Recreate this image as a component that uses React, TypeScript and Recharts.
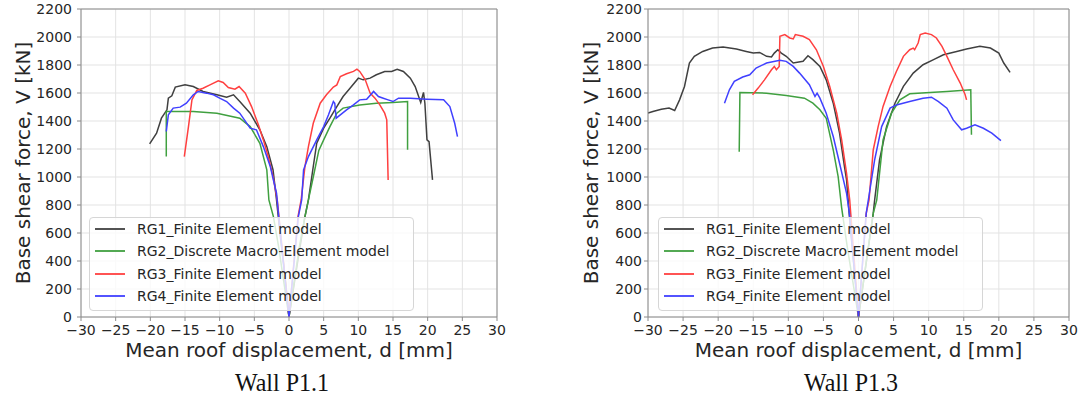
import React from 'react'
import { LineChart, Line, XAxis, YAxis, CartesianGrid, ReferenceLine, Legend } from 'recharts'

// [displacement d (mm), base shear V (kN)]
type Pt = [number, number]

const xTicks = [-30, -25, -20, -15, -10, -5, 0, 5, 10, 15, 20, 25, 30]
const yTicks = [0, 200, 400, 600, 800, 1000, 1200, 1400, 1600, 1800, 2000, 2200]

const seriesNames = [
  'RG1_Finite Element model',
  'RG2_Discrete Macro-Element model',
  'RG3_Finite Element model',
  'RG4_Finite Element model',
]
const seriesColors = ['#404040', '#40a040', '#ff4040', '#4040ff']

// Wall P1.1
const p11Rg1: Pt[] = [
  [-20.1, 1237], [-19.1, 1313], [-18.4, 1420], [-17.6, 1480], [-17.4, 1563], [-16.9, 1580], [-16.4, 1642],
  [-15.0, 1658], [-13.8, 1646], [-12.4, 1611], [-10.4, 1587], [-9.0, 1570], [-8.0, 1587], [-7.1, 1539],
  [-5.6, 1456], [-4.2, 1337], [-3.2, 1217], [-2.3, 1050], [-1.8, 836], [-1.3, 598], [-0.6, 300], [0, 0],
  [1.2, 380], [2.3, 717], [2.8, 836], [3.5, 1075], [4.0, 1241], [5.0, 1349], [5.9, 1420], [6.9, 1503],
  [7.8, 1575], [8.8, 1634], [10.0, 1706], [10.7, 1694], [11.7, 1706], [12.6, 1730], [13.8, 1754],
  [14.8, 1754], [15.6, 1770], [16.5, 1754], [17.5, 1706], [18.2, 1646], [18.7, 1575], [19.0, 1532],
  [19.4, 1604], [19.6, 1527], [19.9, 1265], [20.2, 1253], [20.7, 979],
]
const p11Rg2: Pt[] = [
  [-17.7, 1146], [-17.7, 1468], [-13.8, 1468], [-10.4, 1456], [-7.1, 1420], [-5.6, 1360], [-4.2, 1241],
  [-3.2, 1051], [-2.9, 836], [-2.25, 717], [-1.5, 503], [0, 0], [1.5, 503], [2.3, 717], [2.8, 836],
  [3.5, 1000], [4.3, 1190], [5.0, 1265], [5.9, 1360], [6.9, 1456], [7.8, 1492], [10.2, 1515],
  [12.6, 1527], [15.0, 1532], [17.1, 1539], [17.1, 1194],
]
const p11Rg3: Pt[] = [
  [-15.1, 1146], [-14.5, 1360], [-14.0, 1551], [-13.3, 1618], [-12.4, 1634], [-11.4, 1658], [-10.2, 1687],
  [-9.5, 1675], [-8.75, 1639], [-7.8, 1627], [-7.2, 1646], [-6.3, 1599], [-5.4, 1503], [-4.4, 1372],
  [-3.7, 1265], [-3.0, 1146], [-2.3, 1003], [-1.7, 836], [-1.2, 598], [0, 0], [1.3, 717], [1.75, 836],
  [2.3, 1075], [2.8, 1217], [3.5, 1384], [4.5, 1527], [5.4, 1587], [6.4, 1642], [6.9, 1658], [7.4, 1718],
  [8.3, 1737], [9.3, 1754], [9.8, 1770], [10.2, 1754], [11.0, 1694], [11.7, 1599], [12.4, 1563],
  [13.1, 1515], [13.8, 1456], [14.1, 1408], [14.3, 979],
]
const p11Rg4: Pt[] = [
  [-17.7, 1325], [-17.4, 1444], [-16.7, 1492], [-15.7, 1499], [-14.8, 1527], [-13.8, 1587], [-13.1, 1611],
  [-11.9, 1599], [-10.9, 1587], [-10.0, 1563], [-9.0, 1539], [-8.0, 1492], [-7.1, 1456], [-5.6, 1349],
  [-4.7, 1337], [-3.7, 1217], [-2.7, 1075], [-1.8, 884], [-1.25, 598], [0, 0], [1.35, 717], [1.83, 836],
  [2.1, 1051], [2.8, 1146], [4.0, 1265], [5.0, 1360], [5.7, 1444], [6.4, 1539], [6.6, 1527], [6.8, 1420],
  [7.4, 1444], [8.3, 1480], [9.3, 1515], [10.2, 1551], [11.2, 1556], [12.2, 1611], [12.9, 1575],
  [13.6, 1563], [14.3, 1551], [15.0, 1539], [15.8, 1563], [17.5, 1563], [19.9, 1556], [22.3, 1551],
  [23.2, 1503], [23.9, 1384], [24.3, 1289],
]

// Wall P1.3
const p13Rg1: Pt[] = [
  [-30, 1456], [-29.3, 1468], [-28.1, 1484], [-27, 1492], [-26.2, 1475], [-25.5, 1551], [-24.8, 1647],
  [-24.1, 1814], [-23.4, 1862], [-22.2, 1897], [-20.8, 1921], [-19.3, 1928], [-17.4, 1914], [-16.0, 1897],
  [-15.0, 1885], [-14.1, 1890], [-13.1, 1862], [-12.4, 1857], [-12.0, 1885], [-11.5, 1909], [-11.0, 1885],
  [-10.3, 1862], [-9.3, 1814], [-7.9, 1826], [-7.2, 1866], [-6.5, 1838], [-5.5, 1790], [-4.6, 1694],
  [-3.6, 1527], [-2.7, 1313], [-2.0, 1074], [-1.7, 979], [-1.33, 740], [0, 0], [2.1, 740], [2.3, 835],
  [3.0, 1122], [4.0, 1360], [5.2, 1527], [6.4, 1647], [7.8, 1742], [9.2, 1802], [10.7, 1838],
  [12.1, 1873], [14.0, 1897], [15.4, 1914], [17.3, 1933], [18.8, 1921], [20.0, 1885], [20.7, 1814],
  [21.6, 1747],
]
const p13Rg2: Pt[] = [
  [-17.0, 1181], [-16.9, 1604], [-13.1, 1599], [-10.3, 1582], [-7.7, 1563], [-6.5, 1527], [-5.5, 1480],
  [-4.6, 1420], [-3.6, 1193], [-2.9, 1002], [-2.4, 780], [-1.6, 500], [0, 0], [1.4, 500], [2.1, 740],
  [2.6, 835], [3.5, 1265], [4.7, 1456], [5.9, 1551], [7.3, 1594], [10.2, 1604], [12.6, 1611],
  [16.0, 1623], [16.1, 1301],
]
const p13Rg3: Pt[] = [
  [-15.1, 1587], [-14.3, 1635], [-13.4, 1694], [-12.4, 1766], [-12.0, 1790], [-11.7, 1766], [-11.3, 1790],
  [-11.2, 2005], [-10.5, 2017], [-9.8, 1993], [-9.3, 1986], [-9.0, 2017], [-7.9, 2005], [-7.0, 1981],
  [-6.0, 1909], [-5.0, 1790], [-4.1, 1647], [-3.1, 1456], [-2.4, 1265], [-1.7, 1026], [-1.25, 835], [0, 0],
  [1.1, 740], [1.5, 835], [2.1, 1193], [2.8, 1360], [3.5, 1504], [4.5, 1647], [5.4, 1754], [6.4, 1862],
  [7.3, 1909], [7.8, 1921], [8.0, 1909], [8.5, 1957], [8.8, 2017], [9.5, 2029], [10.4, 2017],
  [11.1, 1993], [11.9, 1933], [12.6, 1862], [13.5, 1766], [14.5, 1671], [15.2, 1587], [15.4, 1551],
]
const p13Rg4: Pt[] = [
  [-19.1, 1527], [-18.4, 1623], [-17.7, 1683], [-16.5, 1714], [-15.5, 1730], [-14.6, 1778], [-13.1, 1814],
  [-11.2, 1833], [-10.3, 1826], [-9.3, 1790], [-8.4, 1742], [-7.0, 1659], [-6.2, 1575], [-5.9, 1599],
  [-5.5, 1563], [-4.6, 1456], [-3.6, 1289], [-2.7, 1098], [-1.7, 883], [-1.3, 740], [0, 0], [1.1, 740],
  [1.6, 900], [2.3, 1122], [3.3, 1360], [4.5, 1492], [5.4, 1515], [7.3, 1539], [9.2, 1563], [10.4, 1570],
  [11.4, 1539], [12.6, 1492], [13.5, 1408], [14.7, 1337], [15.4, 1348], [16.6, 1372], [17.8, 1348],
  [19.0, 1313], [20.3, 1260],
]

const toRows = (pts: Pt[]) => pts.map(([d, v]) => ({ d, v }))
const fmtTick = (v: number) => (v < 0 ? '\u2212' + Math.abs(v) : String(v))

const FONT = '"DejaVu Sans", sans-serif'
const SPINE = '#8a8a8a'

// legend drawn from the series list itself so each swatch keeps its series colour
function LegendBox() {
  return (
    <div
      style={{
        width: 325,
        boxSizing: 'border-box',
        background: 'rgba(255,255,255,0.8)',
        border: '1px solid #d6d6d6',
        borderRadius: 4,
        padding: '0 5px 3px 5px',
        fontFamily: FONT,
        fontSize: 14,
        color: '#262626',
      }}
    >
      {seriesNames.map((name, i) => (
        <div key={name} style={{ display: 'flex', alignItems: 'center', height: 22.3, whiteSpace: 'nowrap' }}>
          <svg width={30} height={8} style={{ marginRight: 12, flex: 'none' }}>
            <line x1={0} y1={4} x2={30} y2={4} stroke={seriesColors[i]} strokeWidth={1.8} />
          </svg>
          <span>{name}</span>
        </div>
      ))}
    </div>
  )
}

type WallProps = {
  series: Pt[][]
  width: number
  yAxisWidth: number
  marginRight: number
  yLabelOffset: number
  tickMarginY: number
  legendLeft: number
}

function WallChart({ series, width, yAxisWidth, marginRight, yLabelOffset, tickMarginY, legendLeft }: WallProps) {
  const tickStyle = { fontSize: 14, fill: '#262626', fontFamily: FONT }
  return (
    <LineChart width={width} height={398} margin={{ top: 9, right: marginRight, bottom: 31, left: 0 }}>
      <CartesianGrid stroke="#e3e3e3" strokeWidth={1} />
      <XAxis
        type="number"
        dataKey="d"
        domain={[-30, 30]}
        ticks={xTicks}
        allowDataOverflow
        tickFormatter={fmtTick}
        tick={tickStyle}
        tickSize={4}
        tickMargin={4}
        height={50}
        stroke={SPINE}
        tickLine={{ stroke: SPINE }}
        label={{
          value: 'Mean roof displacement, d [mm]',
          position: 'insideBottom',
          offset: 10,
          style: { fontSize: 20, fill: '#262626', fontFamily: FONT },
        }}
      />
      <YAxis
        type="number"
        domain={[0, 2200]}
        ticks={yTicks}
        allowDataOverflow
        width={yAxisWidth}
        tick={tickStyle}
        tickSize={4}
        tickMargin={tickMarginY}
        stroke={SPINE}
        tickLine={{ stroke: SPINE }}
        label={{
          value: 'Base shear force, V [kN]',
          angle: -90,
          position: 'insideLeft',
          offset: yLabelOffset,
          style: { fontSize: 20, fill: '#262626', fontFamily: FONT, textAnchor: 'middle' },
        }}
      />
      <ReferenceLine y={2200} stroke={SPINE} />
      <ReferenceLine x={30} stroke={SPINE} />
      {series.map((pts, i) => (
        <Line
          key={seriesNames[i]}
          name={seriesNames[i]}
          data={toRows(pts)}
          dataKey="v"
          type="linear"
          stroke={seriesColors[i]}
          strokeWidth={1.5}
          dot={false}
          activeDot={false}
          isAnimationActive={false}
        />
      ))}
      <Legend
        layout="vertical"
        align="center"
        verticalAlign="middle"
        content={<LegendBox />}
        wrapperStyle={{ left: legendLeft, top: 217, width: 'auto' }}
      />
    </LineChart>
  )
}

const captionStyle: React.CSSProperties = {
  position: 'absolute',
  top: 370,
  width: 200,
  textAlign: 'center',
  fontFamily: '"Liberation Serif", "Times New Roman", serif',
  fontSize: 24,
  lineHeight: '24px',
  color: '#111',
  transform: 'scaleY(1.08)',
}

export default function App() {
  return (
    <div style={{ position: 'absolute', left: 0, top: 0, width: 1081, height: 398, background: '#fff', overflow: 'hidden' }}>
      <div style={{ position: 'absolute', left: 0, top: 0 }}>
        <WallChart
          series={[p11Rg1, p11Rg2, p11Rg3, p11Rg4]}
          width={520}
          yAxisWidth={81}
          marginRight={23}
          yLabelOffset={23}
          tickMarginY={5}
          legendLeft={89}
        />
      </div>
      <div style={{ position: 'absolute', left: 560, top: 0 }}>
        <WallChart
          series={[p13Rg1, p13Rg2, p13Rg3, p13Rg4]}
          width={521}
          yAxisWidth={88}
          marginRight={12}
          yLabelOffset={31}
          tickMarginY={2}
          legendLeft={98}
        />
      </div>
      <div style={{ ...captionStyle, left: 282 - 100 }}>Wall P1.1</div>
      <div style={{ ...captionStyle, left: 851 - 100 }}>Wall P1.3</div>
    </div>
  )
}
